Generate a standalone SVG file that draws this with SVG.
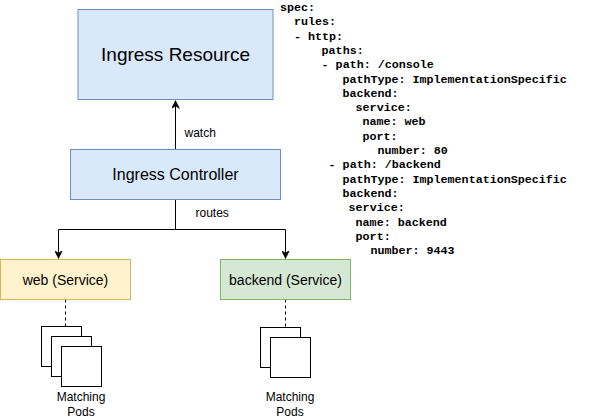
<svg xmlns="http://www.w3.org/2000/svg" width="591" height="420" viewBox="0 0 591 420">
<style>
text{font-family:"Liberation Sans",Arial,sans-serif;fill:#000}
.blue{fill:#dae8fc;stroke:#6c8ebf;stroke-width:1}
.yellow{fill:#fff2cc;stroke:#d6b656;stroke-width:1}
.green{fill:#d5e8d4;stroke:#82b366;stroke-width:1}
.pod{fill:#fff;stroke:#000;stroke-width:1}
.edge{fill:none;stroke:#000;stroke-width:1}
.dash{fill:none;stroke:#000;stroke-width:1;stroke-dasharray:3 3}
.lbl{font-size:12px}
.c{text-anchor:middle}
.yaml text{font-family:"Liberation Mono","Courier New",monospace;font-weight:bold;font-size:11.7px}
</style>
<defs>
<marker id="arrow" viewBox="0 0 8 8" refX="8" refY="4" markerWidth="8" markerHeight="8" markerUnits="userSpaceOnUse" orient="auto">
<path d="M0,0 L8,4 L0,8 L2.5,4 Z" fill="#000" stroke="#000" stroke-width="0.5"/>
</marker>
</defs>
<g id="connectors">
<line class="edge" x1="175.5" y1="149.5" x2="175.5" y2="100.5" marker-end="url(#arrow)"/>
<text class="lbl" x="184.5" y="137">watch</text>
<path class="edge" d="M175.5,199.5 V229.5 H58.5 V258.5" marker-end="url(#arrow)"/>
<path class="edge" d="M175.5,199.5 V229.5 H285.5 V258.5" marker-end="url(#arrow)"/>
<text class="lbl" x="195.5" y="217">routes</text>
<line class="dash" x1="65.5" y1="299.5" x2="65.5" y2="326.5"/>
<line class="dash" x1="285.5" y1="299.5" x2="285.5" y2="327.5"/>
</g>
<g id="ingress-resource">
<rect class="blue" x="78" y="9.5" width="195" height="90"/>
<text class="c" x="175.5" y="61" font-size="19">Ingress Resource</text>
</g>
<g id="ingress-controller">
<rect class="blue" x="70.5" y="149.5" width="210" height="50"/>
<text class="c" x="175.5" y="180" font-size="16">Ingress Controller</text>
</g>
<g id="web-service">
<rect class="yellow" x="0.5" y="259.5" width="130" height="40"/>
<text class="c" x="65.5" y="284.5" font-size="14">web (Service)</text>
</g>
<g id="backend-service">
<rect class="green" x="220.5" y="259.5" width="130" height="40"/>
<text class="c" x="285.5" y="284.5" font-size="14">backend (Service)</text>
</g>
<g id="web-pods">
<rect class="pod" x="41.5" y="326.5" width="40" height="40"/>
<rect class="pod" x="51.5" y="336.5" width="40" height="40"/>
<rect class="pod" x="61.5" y="346.5" width="40" height="40"/>
<text class="lbl c" x="81" y="401">Matching</text>
<text class="lbl c" x="81" y="415.5">Pods</text>
</g>
<g id="backend-pods">
<rect class="pod" x="260.5" y="327.5" width="40" height="40"/>
<rect class="pod" x="270.5" y="337.5" width="40" height="40"/>
<text class="lbl c" x="290" y="401">Matching</text>
<text class="lbl c" x="290" y="415.5">Pods</text>
</g>
<g id="yaml" class="yaml">
<text x="280" y="11">spec:</text>
<text x="294" y="25.3">rules:</text>
<text x="294" y="39.6">- http:</text>
<text x="321.6" y="53.9">paths:</text>
<text x="321.6" y="68.2">- path: /console</text>
<text x="342.4" y="82.5">pathType: ImplementationSpecific</text>
<text x="342.4" y="96.8">backend:</text>
<text x="355.6" y="111.1">service:</text>
<text x="362.4" y="125.4">name: web</text>
<text x="362.4" y="139.7">port:</text>
<text x="377.6" y="154">number: 80</text>
<text x="328.6" y="168.3">- path: /backend</text>
<text x="342.4" y="182.6">pathType: ImplementationSpecific</text>
<text x="342.4" y="196.9">backend:</text>
<text x="348.6" y="211.2">service:</text>
<text x="355.6" y="225.5">name: backend</text>
<text x="355.6" y="239.8">port:</text>
<text x="370.4" y="254.1">number: 9443</text>
</g>
</svg>
